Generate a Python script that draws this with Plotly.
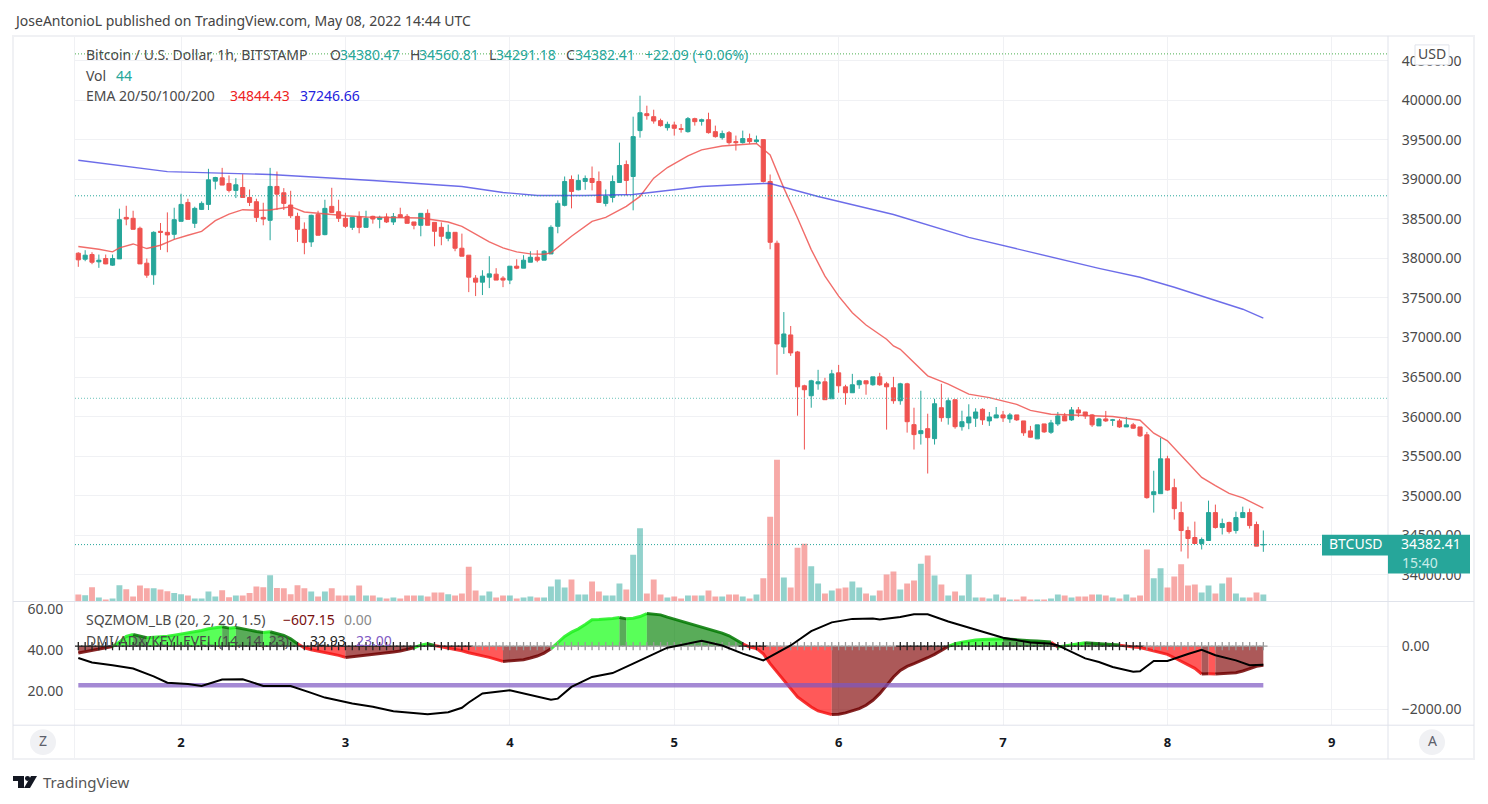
import pandas as pd
import plotly.graph_objects as go

# hourly bars BTCUSD
DATES = pd.date_range("2022-05-01 09:00", periods=174, freq="h")

OPEN = [
    38066,37990,38049,37957,37999,37915,37994,38519,38507,38381,
    37940,37793,38343,38330,38305,38469,38708,38444,38620,38683,
    38977,39019,38948,38860,38897,38771,38717,38519,38482,38910,
    38830,38675,38532,38368,38209,38557,38301,38658,38591,38507,
    38393,38528,38393,38532,38494,38524,38461,38553,38532,38461,
    38419,38570,38456,38393,38255,38330,38129,38041,37751,37700,
    37763,37801,37751,37726,37902,37877,37952,38015,37978,38057,
    38406,38671,38998,38868,38973,39011,38973,38696,38771,38960,
    39187,39036,39616,39830,39792,39742,39653,39687,39641,39603,
    39767,39733,39754,39603,39527,39590,39477,39464,39515,39477,
    39502,38973,38192,36881,37033,36818,36390,36264,36415,36440,
    36226,36554,36377,36302,36403,36453,36403,36503,36415,36365,
    36201,36415,35899,35785,35848,35722,36113,35987,36214,35873,
    35921,35980,36093,35946,35984,36022,35971,36022,35946,35820,
    35719,35908,35803,35908,36009,35959,36085,36059,36022,35883,
    35971,35954,35946,35870,35896,35870,35770,35014,35026,35467,
    35102,34787,34560,34472,34396,34434,34787,34598,34661,34560,
    34724,34787,34636,34380.47,
]
HIGH = [
    38078,38104,38078,38049,38049,38049,38629,38666,38603,38402,
    37999,38343,38448,38582,38641,38818,38755,38654,38721,39133,
    39032,39145,39049,39015,39065,38872,38755,38704,39145,39099,
    38889,38855,38578,38456,38553,38603,38742,38893,38742,38578,
    38519,38595,38603,38540,38540,38570,38574,38641,38561,38461,
    38570,38620,38456,38456,38427,38330,38314,38041,37789,37851,
    38028,37877,37776,37902,37990,38041,38091,38104,38104,38419,
    38734,39036,39049,39061,39049,39162,39099,38872,39049,39464,
    39238,39792,40057,39931,39880,39767,39729,39729,39700,39788,
    39779,39767,39842,39679,39616,39611,39553,39616,39578,39553,
    39502,39061,38225,37322,37146,36831,36403,36466,36592,36491,
    36592,36654,36403,36541,36466,36453,36503,36554,36440,36503,
    36428,36428,36113,36327,36037,36226,36415,36239,36214,36075,
    36156,36106,36106,36059,36122,36072,36047,36022,35946,35883,
    35896,35908,35959,36059,36047,36122,36122,36059,36034,35984,
    36072,35971,35971,35996,35921,35870,35807,35316,35732,35505,
    35215,34925,34610,34673,34472,34938,34888,34711,34673,34799,
    34862,34837,34673,34560.81,
]
LOW = [
    37894,37965,37927,37881,37927,37906,37994,38419,38368,37931,
    37755,37667,38108,38078,38242,38469,38494,38385,38612,38612,
    38872,38927,38834,38763,38771,38662,38461,38419,38230,38612,
    38612,38511,38209,38053,38146,38293,38293,38574,38461,38385,
    38360,38318,38393,38440,38381,38448,38423,38511,38444,38368,
    38280,38419,38154,38167,38217,38091,38028,37574,37524,37537,
    37625,37726,37637,37675,37864,37877,37952,37952,37978,38057,
    38318,38658,38633,38860,38868,38860,38708,38658,38708,38960,
    38797,38608,39527,39754,39704,39666,39616,39553,39590,39590,
    39679,39679,39578,39527,39502,39439,39364,39452,39448,39452,
    38960,38116,36529,36793,36768,36012,35584,36113,36340,36214,
    36226,36302,36151,36302,36352,36277,36390,36390,35836,36163,
    36151,35798,35584,35647,35281,35647,35936,35899,35848,35823,
    35841,35870,35896,35883,35984,35933,35921,35946,35757,35732,
    35719,35795,35782,35883,35946,35946,35996,35971,35870,35883,
    35933,35883,35858,35870,35845,35744,34963,34787,35026,35064,
    34699,34295,34207,34396,34321,34434,34585,34510,34522,34522,
    34724,34585,34363,34291.18,
]
CLOSE = [
    37982,38041,37952,37978,37931,37999,38490,38498,38368,37931,
    37789,38330,38330,38297,38490,38683,38494,38633,38696,38994,
    39023,38927,38860,38931,38771,38708,38519,38498,38910,38813,
    38696,38540,38368,38200,38545,38293,38633,38582,38507,38406,
    38519,38393,38507,38498,38519,38461,38528,38519,38444,38419,
    38570,38419,38343,38280,38330,38129,38028,37763,37700,37776,
    37805,37726,37726,37902,37877,37978,38015,37978,38091,38393,
    38696,38973,38847,38986,39011,38960,38708,38788,38973,39175,
    38986,39540,39842,39805,39737,39679,39695,39645,39632,39767,
    39729,39754,39590,39540,39578,39464,39464,39515,39477,39498,
    38973,38204,36919,37045,36806,36377,36340,36453,36440,36214,
    36541,36390,36302,36403,36453,36415,36503,36403,36377,36201,
    36415,35936,35773,35823,35735,36163,35987,36201,35873,35936,
    35996,36059,35959,35996,36022,35984,36022,35959,35795,35740,
    35896,35807,35921,36009,35946,36085,36047,36009,35896,35971,
    35946,35959,35870,35896,35854,35757,34976,35051,35467,35072,
    34837,34560,34459,34396,34447,34787,34598,34648,34547,34724,
    34787,34623,34363,34382.41,
]
VOLUME = [
    44,40,90,25,13,19,103,78,32,101,
    84,84,76,65,53,46,38,19,19,63,
    32,71,27,38,38,53,95,90,166,86,
    84,46,103,84,63,32,63,84,38,38,
    38,101,38,38,25,19,25,19,38,38,
    38,32,57,57,46,38,50,220,69,38,
    63,25,38,38,19,25,32,25,25,95,
    139,88,139,44,44,126,63,38,38,113,
    76,296,462,50,139,44,25,32,19,38,
    38,38,69,32,32,44,44,32,19,44,
    147,536,895,151,88,340,365,223,113,50,
    69,82,88,126,88,50,38,69,170,189,
    76,113,132,239,290,164,107,38,63,38,
    170,25,25,19,44,25,13,13,32,13,
    13,13,19,44,38,25,32,32,44,44,
    38,25,19,44,25,38,328,147,210,88,
    158,235,101,107,57,101,50,113,151,50,
    25,25,57,44,
]

EMA20_BARS = [0,3,5,6,8,10,12,14,16,18,20,22,24,26,28,31,33,36,39,42,46,50,52,54,56,58,60,62,64,66,68,69,72,75,77,80,82,84,86,89,91,94,96,99,101,102,103,105,107,109,111,113,115,118,119,120,124,127,130,133,137,139,142,146,151,155,157,159,161,164,166,168,170,173]
EMA20_VALUES = [38150,38116,38083,38133,38183,38125,38167,38242,38293,38343,38477,38561,38616,38608,38612,38654,38587,38561,38540,38524,38519,38511,38486,38461,38406,38309,38209,38133,38083,38057,38053,38070,38280,38469,38519,38658,38784,39015,39149,39296,39372,39422,39435,39452,39309,39099,38889,38511,38112,37776,37524,37314,37159,36978,36894,36852,36516,36411,36285,36240,36156,36080,36030,36017,36001,35954,35791,35694,35505,35232,35127,35030,34972,34844.43]
EMA200_BARS = [0,13,28,43,56,62,67,74,81,86,91,100,101,108,119,130,142,149,155,160,165,170,173]
EMA200_VALUES = [39241,39098,39061,38985,38909,38834,38796,38796,38808,38859,38909,38947,38947,38783,38556,38266,38014,37875,37762,37636,37497,37358,37246.66]

MOMENTUM = [
    -220,-178,-147,-115,-63,-10,126,304,367,325,
    262,272,293,314,346,377,409,440,493,545,
    587,608,566,587,534,503,461,430,451,398,
    335,231,73,-52,-115,-157,-210,-252,-293,-356,
    -335,-314,-293,-272,-252,-220,-189,-157,-94,-52,
    31,73,21,-21,-52,-94,-147,-210,-252,-293,
    -356,-419,-482,-472,-461,-430,-377,-314,-220,-84,
    126,304,440,545,681,828,838,849,870,901,
    859,880,933,1027,1017,985,912,849,796,723,
    660,608,545,472,409,325,199,73,-31,-73,
    -241,-555,-817,-1100,-1341,-1603,-1761,-1918,-2044,-2106,
    -2159,-2148,-2106,-2044,-1970,-1865,-1708,-1499,-1237,-975,
    -765,-639,-555,-472,-367,-262,-136,-10,73,126,
    168,189,210,220,221,231,210,199,178,168,
    157,147,126,-31,1,52,73,105,94,84,
    73,52,31,-10,-31,-42,-94,-136,-199,-262,
    -367,-472,-597,-702,-880,-870,-880,-870,-859,-838,
    -786,-702,-639,-607.15,
]
SQUEEZE_ON_RANGES = [(0, 57), (97, 100), (120, 155)]

ADX_BARS = [0,2,5,8,11,13,16,18,21,24,27,31,34,36,40,43,46,51,54,56,57,59,63,69,70,72,75,78,81,84,86,88,91,94,97,100,104,107,110,113,116,117,120,122,124,127,131,135,139,142,143,145,147,149,151,154,155,157,159,162,164,166,169,171,173]
ADX_VALUES = [36.3,34.1,32.7,31.1,27.3,24.2,23.6,22.6,25.7,25.9,22.6,22.6,19.2,16.9,14.0,12.4,10.2,8.8,9.7,11.9,14.5,18.9,20.5,15.9,16.4,22.1,27.0,28.9,33.5,38.4,41.3,42.6,44.7,42.4,38.4,35.1,42.4,49.4,53.7,55.4,55.6,55.1,56.3,57.7,57.7,54.1,50.2,46.2,43.9,43.2,42.4,39.2,36.1,34.3,31.9,29.6,29.8,34.8,34.8,38.2,40.3,37.6,35.1,32.7,32.93]
KEY_LEVEL = 23.0

LEVELS = [40586, 38792, 36232, 34382.41]
LEVEL_COLORS = ["#4caf50", "#26a69a", "#6cc4bb", "#26a69a"]

PRICE_TICKS = [34000,34500,35000,35500,36000,36500,37000,37500,38000,38500,39000,39500,40000,40500]
DAY_TICKS = ["2022-05-02","2022-05-03","2022-05-04","2022-05-05","2022-05-06","2022-05-07","2022-05-08","2022-05-09"]
DAY_LABELS = ["2","3","4","5","6","7","8","9"]

FONT = "Noto Sans"
W, H = 1488, 804
TEAL = "#26a69a"
RED = "#ef5350"
GRID = "#f0f1f4"
LINE = "#e0e3eb"
TEXT = "#4a4a4a"
X_RANGE = ["2022-05-01 08:31", "2022-05-09 08:12"]


def px(x):
    return x / W


def py(y):
    return 1 - y / H


def label(x, y, text, color=TEXT, size=14, anchor="left", weight=None):
    # the font sits a little low in its line box
    fig.add_annotation(
        x=px(x), y=py(y - 1.5), xref="paper", yref="paper", text=text, showarrow=False,
        xanchor=anchor, yanchor="middle", borderpad=0,
        font=dict(family=FONT, size=size, color=color, weight=weight),
    )


def rect(x0, y0, x1, y1, fill="rgba(0,0,0,0)", line=None, width=1):
    fig.add_shape(
        type="rect", xref="paper", yref="paper", x0=px(x0), x1=px(x1), y0=py(y0), y1=py(y1),
        fillcolor=fill, line=dict(color=line or "rgba(0,0,0,0)", width=width if line else 0),
    )


def rule(x0, y0, x1, y1, color=LINE, width=1):
    fig.add_shape(
        type="line", xref="paper", yref="paper", x0=px(x0), x1=px(x1), y0=py(y0), y1=py(y1),
        line=dict(color=color, width=width),
    )


def circle(cx, cy, r, fill):
    fig.add_shape(
        type="circle", xref="paper", yref="paper", x0=px(cx - r), x1=px(cx + r),
        y0=py(cy - r), y1=py(cy + r), fillcolor=fill, line=dict(width=0),
    )


def polygon(points, fill):
    path = "M " + " L ".join(f"{px(x):.5f},{py(y):.5f}" for x, y in points) + " Z"
    fig.add_shape(type="path", xref="paper", yref="paper", path=path, fillcolor=fill, line=dict(width=0))


fig = go.Figure()

# volume first so the candles sit on top of it
vol_colors = ["rgba(38,166,154,0.5)" if c >= o else "rgba(239,83,80,0.5)" for o, c in zip(OPEN, CLOSE)]
fig.add_trace(go.Bar(x=DATES, y=VOLUME, marker=dict(color=vol_colors, line=dict(width=0)), xaxis="x", yaxis="y"))

fig.add_trace(go.Candlestick(
    x=DATES, open=OPEN, high=HIGH, low=LOW, close=CLOSE, xaxis="x", yaxis="y2",
    increasing=dict(line=dict(color=TEAL, width=1), fillcolor=TEAL),
    decreasing=dict(line=dict(color=RED, width=1), fillcolor=RED),
    whiskerwidth=0,
))
fig.add_trace(go.Scatter(x=DATES[EMA20_BARS], y=EMA20_VALUES, mode="lines", xaxis="x", yaxis="y2",
                         line=dict(color="rgba(239,83,80,0.85)", width=1.4)))
fig.add_trace(go.Scatter(x=DATES[EMA200_BARS], y=EMA200_VALUES, mode="lines", xaxis="x", yaxis="y2",
                         line=dict(color="rgba(60,60,225,0.75)", width=1.4)))
for level, color in zip(LEVELS, LEVEL_COLORS):
    fig.add_shape(type="line", xref="x", yref="y2", x0=X_RANGE[0], x1=X_RANGE[1], y0=level, y1=level,
                  line=dict(color=color, width=1, dash="1px,2px"))

# squeeze momentum, one filled run per colour
MOM_FILL = {"lime": "rgba(0,255,0,0.65)", "green": "rgba(0,128,0,0.65)",
            "red": "rgba(255,0,0,0.65)", "maroon": "rgba(128,0,0,0.65)"}
MOM_EDGE = {"lime": "rgba(30,240,30,0.85)", "green": "rgba(0,120,0,0.85)",
            "red": "rgba(245,20,20,0.85)", "maroon": "rgba(110,0,0,0.85)"}
mom_state = ["maroon"]
for i in range(1, len(MOMENTUM)):
    rising = MOMENTUM[i] > MOMENTUM[i - 1]
    if MOMENTUM[i] > 0:
        mom_state.append("lime" if rising else "green")
    else:
        mom_state.append("maroon" if rising else "red")
start = 0
for i in range(1, len(MOMENTUM) + 1):
    if i == len(MOMENTUM) or mom_state[i] != mom_state[start + 1 if start + 1 < len(mom_state) else start]:
        state = mom_state[start + 1 if start + 1 < len(mom_state) else start]
        fig.add_trace(go.Scatter(
            x=DATES[start:i], y=MOMENTUM[start:i], mode="lines", fill="tozeroy", xaxis="x2", yaxis="y3",
            fillcolor=MOM_FILL[state], line=dict(color=MOM_EDGE[state], width=3),
        ))
        start = i - 1

cross_colors = ["#9a9a9a"] * len(DATES)
for a, b in SQUEEZE_ON_RANGES:
    for i in range(a, b + 1):
        cross_colors[i] = "#222222"
fig.add_trace(go.Scatter(
    x=DATES, y=[0] * len(DATES), mode="markers", xaxis="x2", yaxis="y3",
    marker=dict(symbol="cross-thin", size=6, color=cross_colors, line=dict(color=cross_colors, width=1.3)),
))

fig.add_trace(go.Scatter(x=[DATES[0], DATES[-1]], y=[KEY_LEVEL, KEY_LEVEL], mode="lines", xaxis="x2", yaxis="y4",
                         line=dict(color="rgba(126,87,194,0.7)", width=4.5)))
fig.add_trace(go.Scatter(x=DATES[ADX_BARS], y=ADX_VALUES, mode="lines", xaxis="x2", yaxis="y4",
                         line=dict(color="#000000", width=2)))

# pane frame
rect(13, 34, 1474, 759, line=GRID, width=2)
rule(74.5, 34, 74.5, 759, color=GRID)
rule(1388, 34, 1388, 759)
rule(13, 601, 1474, 601)
rule(13, 725, 1474, 725)

# last price tag
rect(1322, 534, 1388, 555, fill=TEAL)
rect(1388, 534, 1470, 573, fill=TEAL)
label(1328, 544.5, "BTCUSD", color="#ffffff")
label(1462, 544.5, "34382.41", color="#ffffff", anchor="right")
label(1401, 563, "15:40", color="#c8ece8")

# USD button
rect(1415, 43, 1449, 63, fill="#ffffff", line=LINE)
label(1432, 53, "USD", anchor="center")

circle(43, 742, 13, GRID)
circle(1432, 742, 13, GRID)
label(43, 742, "Z", anchor="center", color="#5d606b")
label(1432, 742, "A", anchor="center", color="#5d606b")

label(13, 20, "JoseAntonioL published on TradingView.com, May 08, 2022 14:44 UTC", color="#444444")

# legend rows
label(85, 54, "Bitcoin / U.S. Dollar, 1h, BITSTAMP")
for x, txt, col in [(329, "O", TEXT), (339, "34380.47", TEAL), (409, "H", TEXT), (418, "34560.81", TEAL),
                    (488, "L", TEXT), (495, "34291.18", TEAL), (565, "C", TEXT), (574, "34382.41", TEAL),
                    (644, "+22.09 (+0.06%)", TEAL)]:
    label(x, 54, txt, color=col)
label(85, 75, "Vol")
label(115, 75, "44", color=TEAL)
label(85, 95, "EMA 20/50/100/200")
label(229, 95, "34844.43", color="#ee2222")
label(299, 95, "37246.66", color="#2222dd")
label(85, 621, "SQZMOM_LB (20, 2, 20, 1.5)")
label(282, 621, "\u2212607.15", color="#7a1010")
label(343, 621, "0.00", color="#8a8a8a")
label(85, 642, "DMI/ADX/KEYLEVEL (14, 14, 23)")
label(309, 642, "32.93", color="#222222")
label(355, 642, "23.00", color="#7e57c2")

# TradingView mark
polygon([(13, 776), (24, 776), (24, 788), (18, 788), (18, 781), (13, 781)], "#131722")
circle(27.5, 778.5, 2.5, "#131722")
polygon([(31, 776), (37, 776), (30, 788), (24, 788)], "#131722")
label(42, 783, "TradingView", color="#555555", size=15)

x_common = dict(type="date", range=X_RANGE, tickvals=DAY_TICKS, showgrid=True, gridcolor=GRID, gridwidth=1,
                rangeslider=dict(visible=False), zeroline=False, showline=False,
                domain=[px(75), px(1388)])
tick_font = dict(family=FONT, size=14, color=TEXT)

fig.update_layout(
    width=W, height=H, margin=dict(l=0, r=0, t=0, b=0), autosize=False,
    paper_bgcolor="#ffffff", plot_bgcolor="#ffffff", showlegend=False, bargap=0.14, boxgap=0.14,
    xaxis=dict(x_common, anchor="y", showticklabels=False, ticks=""),
    xaxis2=dict(x_common, anchor="y3", ticktext=DAY_LABELS, ticks="outside", ticklen=5, tickcolor="rgba(0,0,0,0)",
                tickfont=dict(family=FONT, size=13, color="#131722", weight=700)),
    # volume keeps to the bottom of the price pane
    yaxis=dict(domain=[py(601), py(34)], range=[0, 3572], anchor="x", visible=False, fixedrange=True),
    yaxis2=dict(domain=[py(601), py(34)], range=[33663, 40813], overlaying="y", anchor="x", side="right",
                tickvals=PRICE_TICKS, tickformat=".2f", showgrid=True, gridcolor=GRID, zeroline=False,
                ticks="outside", ticklen=10, tickcolor="rgba(0,0,0,0)", tickfont=tick_font, showline=False),
    yaxis3=dict(domain=[py(725), py(601)], range=[-2494, 1406], anchor="x2", side="right",
                tickvals=[-2000, 0], ticktext=["\u22122000.00", "0.00"], showgrid=True, gridcolor=GRID, zeroline=False,
                ticks="outside", ticklen=10, tickcolor="rgba(0,0,0,0)", tickfont=tick_font),
    yaxis4=dict(domain=[py(725), py(601)], range=[3.4, 63.9], overlaying="y3", anchor="x2", side="left",
                tickvals=[20, 40, 60], tickformat=".2f", showgrid=False, zeroline=False,
                ticks="outside", ticklen=8, tickcolor="rgba(0,0,0,0)", tickfont=tick_font),
)

# page margin would push the figure off the 1488 wide window
fig.write_html("out.html", config={"displayModeBar": False}, post_script="document.body.style.margin = '0';")
